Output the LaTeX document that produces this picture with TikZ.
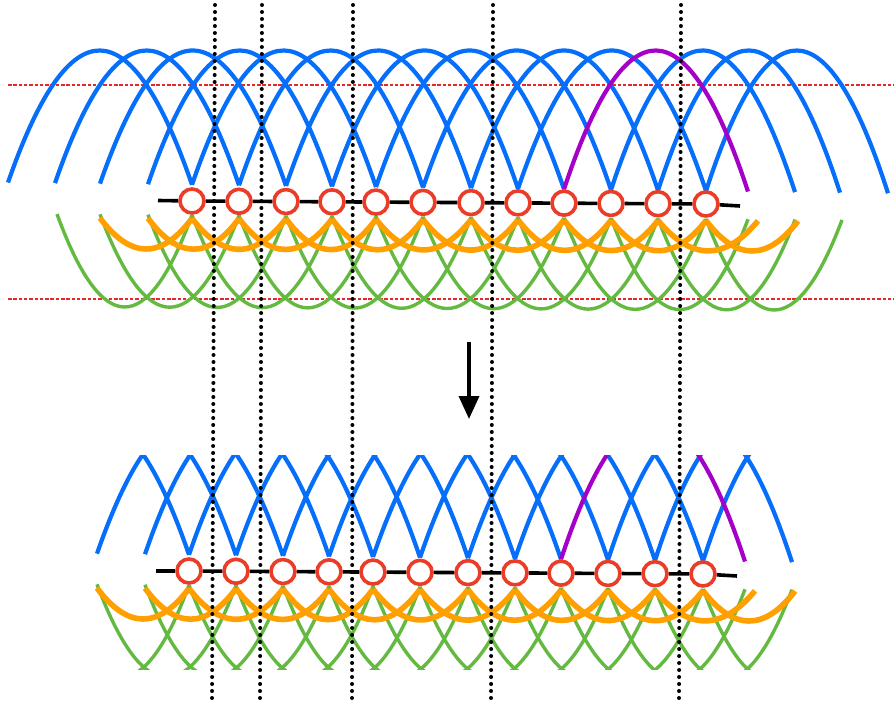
\documentclass[tikz,border=0pt]{standalone}
\usetikzlibrary{arrows.meta}
\definecolor{cblue}{RGB}{5,110,250}
\definecolor{cpurple}{RGB}{165,0,200}
\definecolor{cgreen}{RGB}{100,185,65}
\definecolor{corange}{RGB}{255,160,0}
\definecolor{cred}{RGB}{235,60,40}
\definecolor{cdash}{RGB}{230,40,40}
\tikzset{
  bluearc/.style={draw=cblue, line width=4.2pt},
  purplearc/.style={draw=cpurple, line width=4.2pt},
  greenarc/.style={draw=cgreen, line width=3.4pt},
  orangearc/.style={draw=corange, line width=5.6pt},
  ball/.style={circle, draw=cred, line width=3.6pt, fill=white, minimum size=24pt, inner sep=0pt},
  chainline/.style={draw=black, line width=3.6pt},
  guide/.style={draw=cdash, line width=1.2pt, dash pattern=on 3.5pt off 1.8pt},
  dotline/.style={draw=black, line width=4pt, line cap=round, dash pattern=on 0pt off 7pt},
  flow/.style={draw=black, line width=3.6pt, -{Triangle[length=23pt,width=20pt]}},
}
% quadratic (parabolic) arc: style, xa, ya, xb, yb, y of vertex
\newcommand\qarc[6]{%
  \pgfmathsetmacro\qxm{(#2+#4)/2}%
  \pgfmathsetmacro\qyc{2*(#6)-((#3)+(#5))/2}%
  \pgfmathsetmacro\qcax{#2+2/3*(\qxm-(#2))}%
  \pgfmathsetmacro\qcay{#3+2/3*(\qyc-(#3))}%
  \pgfmathsetmacro\qcbx{#4+2/3*(\qxm-(#4))}%
  \pgfmathsetmacro\qcby{#5+2/3*(\qyc-(#5))}%
  \draw[#1] (#2,#3) .. controls (\qcax,\qcay) and (\qcbx,\qcby) .. (#4,#5);}
\newcommand\mkBlue[3]{%
  \pgfmathsetmacro\bya{182.5+(#2-8)*0.0122}%
  \pgfmathsetmacro\byb{182.5+(#3-8)*0.0122}%
  \qarc{#1}{#2}{\bya}{#3}{\byb}{50.5}}
\newcommand\mkGreen[2]{%
  \pgfmathsetmacro\gya{214+(#1-57)*0.0076}%
  \pgfmathsetmacro\gyb{214+(#2-57)*0.0076}%
  \pgfmathsetmacro\gyv{307+((#1+#2)/2-124)*0.0046}%
  \qarc{greenarc}{#1}{\gya}{#2}{\gyb}{\gyv}}
\newcommand\mkOrange[2]{%
  \pgfmathsetmacro\oya{218+(#1-100)*0.0043}%
  \pgfmathsetmacro\oyb{218+(#2-100)*0.0043}%
  \pgfmathsetmacro\oyv{249+((#1+#2)/2-146)*0.0033}%
  \qarc{orangearc}{#1}{\oya}{#2}{\oyb}{\oyv}}
\newcommand\blueL{\mkBlue{bluearc}{8}{192}\mkBlue{bluearc}{55}{239}}
\newcommand\blueC{\foreach \p/\q in {100/286,148/332,192/376,239/423,286/471,332/518,376/564,423/611,471/658,518/706,611/795}{\mkBlue{bluearc}{\p}{\q}}}
\newcommand\blueR{\mkBlue{bluearc}{658}{840}\mkBlue{bluearc}{706}{888}}
\newcommand\purpleC{\mkBlue{purplearc}{564}{748}}
\newcommand\greenL{\mkGreen{57}{192}}
\newcommand\greenC{\foreach \p/\q in {100/239,148/286,192/332,239/376,286/423,332/471,376/518,423/564,471/611,518/658,564/706,611/748,658/795}{\mkGreen{\p}{\q}}}
\newcommand\greenR{\mkGreen{706}{842}}
\newcommand\orangeC{\foreach \p/\q in {100/192,148/239,192/286,239/332,286/376,332/423,376/471,423/518,471/564,518/611,564/658,611/706,658/758,706/798}{\mkOrange{\p}{\q}}}
\begin{document}
\begin{tikzpicture}[x=1pt,y=-1pt]
\useasboundingbox (0,0) rectangle (894,706);
% guide lines
\coordinate (g1a) at (8,85);  \coordinate (g1b) at (894,85);
\coordinate (g2a) at (8,299); \coordinate (g2b) at (894,299);
\draw[guide] (g1a) -- (g1b);
\draw[guide] (g2a) -- (g2b);
% top panel arcs
\blueL \blueC \blueR \purpleC
\greenL \greenC \greenR
\orangeC
% bottom panel arcs (band between guide lines)
\begin{scope}[shift={(-3,370)}]
  \clip (97,85) rectangle (802,299);
  \begin{scope} \clip (120,0) rectangle (900,400); \blueL \end{scope}
  \blueC
  \begin{scope} \clip (0,0) rectangle (780,400); \blueR \end{scope}
  \purpleC
  \begin{scope} \clip (120,0) rectangle (900,400); \greenL \end{scope}
  \greenC
  \begin{scope} \clip (0,0) rectangle (780,400); \greenR \end{scope}
  \orangeC
\end{scope}
% circles
\foreach \x [count=\i] in {192,239,286,332,376,423,471,518,564,611,658,706}{
  \pgfmathsetmacro\cy{201+(\x-192)*0.00584}
  \node[ball] (t\i) at (\x,\cy) {};
  \node[ball] (b\i) at (\x-3,\cy+370) {};
}
\coordinate (tL) at (158,200.5); \coordinate (tR) at (740,206);
\coordinate (bL) at (156,571);   \coordinate (bR) at (737,576);
\draw[chainline] (tL) -- (t1);
\draw[chainline] (t12) -- (tR);
\draw[chainline] (bL) -- (b1);
\draw[chainline] (b12) -- (bR);
\foreach \i [evaluate=\i as \j using int(\i+1)] in {1,...,11}{
  \draw[chainline] (t\i) -- (t\j);
  \draw[chainline] (b\i) -- (b\j);
}
% arrow
\coordinate (aS) at (469,342); \coordinate (aE) at (469,419);
\draw[flow] (aS) -- (aE);
% dotted verticals
\foreach \u/\v [count=\k] in {215/212,262/260,353/352,493/491,681/679}{
  \coordinate (d\k t) at (\u,5);
  \coordinate (d\k b) at (\v,704);
  \draw[dotline] (d\k t) -- (d\k b);
}
\end{tikzpicture}
\end{document}
